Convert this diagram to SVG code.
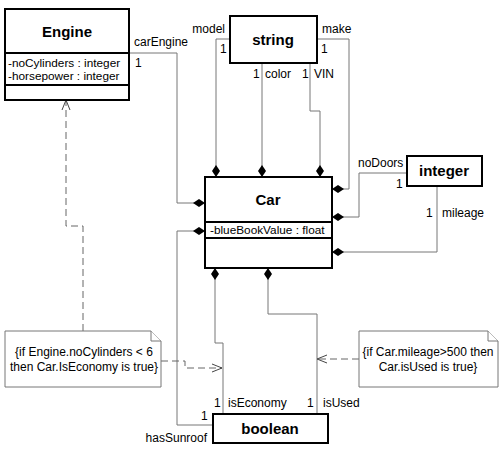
<svg xmlns="http://www.w3.org/2000/svg" width="500" height="456" viewBox="0 0 500 456">
<style>
.box{fill:#fff;stroke:#000;stroke-width:2}
.div{stroke:#000;stroke-width:2}
.name{font-family:"Liberation Sans",Arial,sans-serif;font-size:15px;font-weight:bold;text-anchor:middle;fill:#000}
.attr{font-family:"Liberation Sans",Arial,sans-serif;font-size:11.8px;fill:#000}
.lbl{font-family:"Liberation Sans",Arial,sans-serif;font-size:12px;fill:#000}
.note{fill:#fff;stroke:#777;stroke-width:1}
.ntxt{font-family:"Liberation Sans",Arial,sans-serif;font-size:12px;text-anchor:middle;fill:#000}
.con{fill:none;stroke:#777;stroke-width:1}
.comp{marker-start:url(#diamond)}
.dep{fill:none;stroke:#666;stroke-width:1;stroke-dasharray:7,4;marker-end:url(#open)}
</style>
<defs>
<marker id="diamond" markerUnits="userSpaceOnUse" markerWidth="14" markerHeight="10" refX="0" refY="5" orient="auto" viewBox="0 0 14 10" overflow="visible">
<path d="M0,5 L6,1 L12,5 L6,9 Z" fill="#000"/>
</marker>
<marker id="open" markerUnits="userSpaceOnUse" markerWidth="12" markerHeight="10" refX="11" refY="5" orient="auto" viewBox="0 0 12 10" overflow="visible">
<path d="M1,1 L11,5 L1,9" fill="none" stroke="#444" stroke-width="1"/>
</marker>
</defs>

<g id="connectors">
<path class="con comp" d="M205,203 H177 V53 H129"/>
<path class="con comp" d="M216,177 V39 H230"/>
<path class="con comp" d="M262,177 V63"/>
<path class="con comp" d="M320,177 V111 H310 V63"/>
<path class="con comp" d="M332,189 H349 V39 H317"/>
<path class="con comp" d="M332,217 H359 V173 H407"/>
<path class="con comp" d="M332,252 H437 V186"/>
<path class="con comp" d="M205,231 H177 V425 H213"/>
<path class="con comp" d="M215,268 V343 H223 V414"/>
<path class="con comp" d="M268,268 V314 H317 V414"/>
<path class="dep" d="M83,331 V226 H66 V100"/>
<path class="dep" d="M161,361 H185 V368 H222"/>
<path class="dep" d="M359,359 H317"/>
</g>

<g id="engine">
<rect class="box" x="5" y="9" width="124" height="91"/>
<line class="div" x1="5" y1="53" x2="129" y2="53"/>
<line class="div" x1="5" y1="85" x2="129" y2="85"/>
<text class="name" x="67" y="37">Engine</text>
<text class="attr" x="8" y="67">-noCylinders : integer</text>
<text class="attr" x="8" y="80">-horsepower : integer</text>
</g>

<g id="string">
<rect class="box" x="230" y="16" width="87" height="47"/>
<text class="name" x="273" y="45">string</text>
</g>

<g id="car">
<rect class="box" x="205" y="177" width="127" height="91"/>
<line class="div" x1="205" y1="222" x2="332" y2="222"/>
<line class="div" x1="205" y1="238" x2="332" y2="238"/>
<text class="name" x="268" y="205">Car</text>
<text class="attr" x="210" y="234">-blueBookValue : float</text>
</g>

<g id="integer">
<rect class="box" x="407" y="156" width="75" height="30"/>
<text class="name" x="444" y="176">integer</text>
</g>

<g id="boolean">
<rect class="box" x="213" y="414" width="115" height="29"/>
<text class="name" x="270" y="434">boolean</text>
</g>

<g id="note-economy">
<path class="note" d="M5,331 H151 L161,341 V387 H5 Z"/>
<path class="note" d="M151,331 V341 H161"/>
<text class="ntxt" x="84" y="356">{if Engine.noCylinders &lt; 6</text>
<text class="ntxt" x="84" y="371">then Car.IsEconomy is true}</text>
</g>

<g id="note-used">
<path class="note" d="M359,331 H488 L498,341 V387 H359 Z"/>
<path class="note" d="M488,331 V341 H498"/>
<text class="ntxt" x="428" y="356">{if Car.mileage&gt;500 then</text>
<text class="ntxt" x="428" y="371">Car.isUsed is true}</text>
</g>

<g id="labels">
<text class="lbl" x="134" y="46">carEngine</text>
<text class="lbl" x="135" y="67">1</text>
<text class="lbl" x="225" y="33" text-anchor="end">model</text>
<text class="lbl" x="220" y="53">1</text>
<text class="lbl" x="322" y="33">make</text>
<text class="lbl" x="321" y="53">1</text>
<text class="lbl" x="253" y="78">1</text>
<text class="lbl" x="265" y="78">color</text>
<text class="lbl" x="302" y="78">1</text>
<text class="lbl" x="314" y="78">VIN</text>
<text class="lbl" x="358" y="167">noDoors</text>
<text class="lbl" x="396" y="188">1</text>
<text class="lbl" x="426" y="217">1</text>
<text class="lbl" x="442" y="217">mileage</text>
<text class="lbl" x="201" y="420">1</text>
<text class="lbl" x="207" y="442" text-anchor="end">hasSunroof</text>
<text class="lbl" x="214" y="407">1</text>
<text class="lbl" x="228" y="407">isEconomy</text>
<text class="lbl" x="307" y="407">1</text>
<text class="lbl" x="323" y="407">isUsed</text>
</g>
</svg>
